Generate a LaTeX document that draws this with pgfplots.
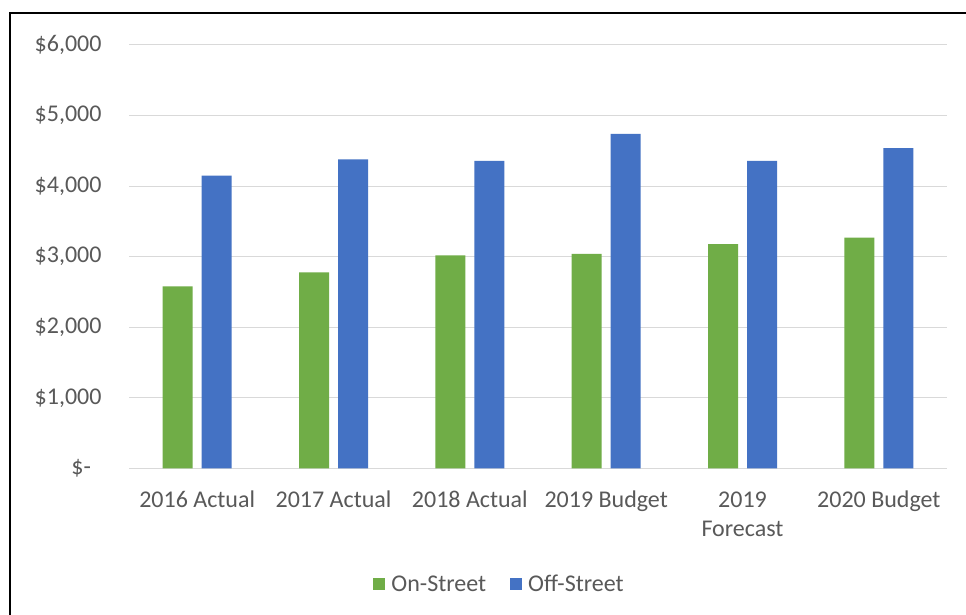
\documentclass[border=0pt]{standalone}
\usepackage{pgfplots}
\pgfplotsset{compat=1.18}
\usepackage{fontspec}
\setmainfont{Carlito}
\definecolor{onst}{HTML}{70AD47}
\definecolor{offst}{HTML}{4472C4}
\definecolor{txt}{HTML}{595959}
\definecolor{grd}{HTML}{D9D9D9}
\begin{document}
\begin{tikzpicture}[x=1pt,y=1pt]
\useasboundingbox (0,0) rectangle (966,615);
\fill[white] (0,0) rectangle (966,615);
\draw[line width=1.6pt, black] (10,-5) -- (10,602) -- (975,602);
\begin{axis}[
  at={(129pt,146.5pt)}, anchor=south west,
  scale only axis, width=818pt, height=423.5pt,
  ybar=9pt, bar width=30pt,
  xmin=-0.5, xmax=5.5, ymin=0, ymax=6000,
  xtick={0,1,2,3,4,5},
  xticklabels={{\strut 2016 Actual},{\strut 2017 Actual},{\strut 2018 Actual},{\strut 2019 Budget},{\strut 2019\\\strut Forecast},{\strut 2020 Budget}},
  ytick={0,1000,2000,3000,4000,5000,6000},
  yticklabels={{\makebox[30pt][l]{\$-}},{\$1,000},{\$2,000},{\$3,000},{\$4,000},{\$5,000},{\$6,000}},
  axis line style={draw=none},
  major tick length=0pt,
  xtick style={draw=none}, ytick style={draw=none},
  ymajorgrids, grid style={grd, line width=1pt},
  tick label style={font=\fontsize{24}{29}\selectfont, text=txt, inner sep=0pt},
  xticklabel style={anchor=north, yshift=-18.2pt, align=center},
  yticklabel style={anchor=east, xshift=-27.3pt},
  legend style={at={(0.453,-0.273)}, anchor=center, draw=none, fill=none,
    legend columns=2, font=\fontsize{24}{29}\selectfont, text=txt,
    /tikz/every odd column/.append style={column sep=4pt},
    /tikz/every even column/.append style={column sep=22pt},
    legend cell align=left},
  legend image code/.code={\fill[#1] (0pt,-6pt) rectangle (12pt,6pt);},
]
\addplot[fill=onst, draw=none] coordinates {(0,2580) (1,2780) (2,3020) (3,3040) (4,3180) (5,3270)};
\addplot[fill=offst, draw=none] coordinates {(0,4150) (1,4380) (2,4360) (3,4740) (4,4360) (5,4540)};
\legend{On-Street, Off-Street}
\end{axis}
\end{tikzpicture}
\end{document}
